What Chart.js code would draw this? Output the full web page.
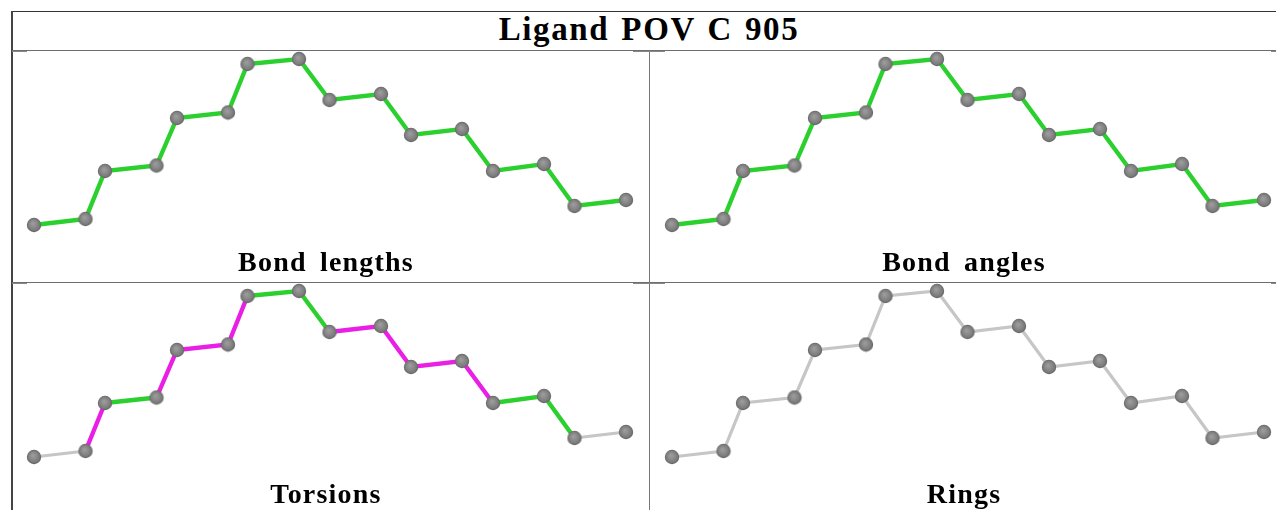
<!DOCTYPE html>
<html>
<head>
<meta charset="utf-8">
<title>Ligand POV C 905</title>
<script src="https://cdn.jsdelivr.net/npm/chart.js@4/dist/chart.umd.min.js"></script>
<style>
  html, body { margin: 0; padding: 0; background: #fff; overflow: hidden; width: 1276px; height: 510px; }
  .rule { position: absolute; background: #6e6e6e; }
  .panel { position: absolute; width: 637px; height: 231px; }
  .panel canvas { filter: blur(0.5px); }
  .label {
    position: absolute; left: -4.5px; width: 637px; top: 195px; text-align: center;
    font: bold 28px "Liberation Serif", serif; letter-spacing: 1.2px; word-spacing: 5px; color: #000;
  }
  #title {
    position: absolute; left: 17px; width: 1264px; top: 11px; text-align: center;
    font: bold 33px "Liberation Serif", serif; letter-spacing: 1.6px; word-spacing: 2.3px; color: #000;
  }
</style>
</head>
<body>
<div id="title"></div>

<script>
// atom positions of the ligand
const atomX = [22, 73.5, 93, 144.5, 165, 216, 235.5, 287, 317.5, 369, 399, 450, 481, 532, 562.5, 614];
const atomY = [57, 63, 111, 116.5, 164, 169.5, 218, 223, 182, 188, 147, 153, 111, 118, 76, 82];

const chartTitle = "Ligand POV C 905";
const panelNames = ["Bond lengths", "Bond angles", "Torsions", "Rings"];

// state of each of the 15 bonds in every panel
const bondLengthStates = ["ok","ok","ok","ok","ok","ok","ok","ok","ok","ok","ok","ok","ok","ok","ok"];
const bondAngleStates  = ["ok","ok","ok","ok","ok","ok","ok","ok","ok","ok","ok","ok","ok","ok","ok"];
const torsionStates    = ["none","bad","ok","bad","bad","bad","ok","ok","bad","bad","bad","bad","ok","ok","none"];
const ringStates       = ["none","none","none","none","none","none","none","none","none","none","none","none","none","none","none"];

const stateColors = { ok: "#2bd02f", bad: "#ea1fe6", none: "#c6c6c6" };
const stateWidths = { ok: 4.4, bad: 4.4, none: 3.2 };

// little shaded ball used as the point image
function makeBall() {
  const c = document.createElement("canvas");
  c.width = c.height = 16;
  const g = c.getContext("2d");
  const grad = g.createRadialGradient(7, 6.5, 1, 8, 8, 7.5);
  grad.addColorStop(0, "#9a9a9a");
  grad.addColorStop(0.7, "#7c7c7c");
  grad.addColorStop(1, "#5f5f5f");
  g.fillStyle = grad;
  g.beginPath();
  g.arc(8, 8, 7.2, 0, Math.PI * 2);
  g.fill();
  return c;
}
const ball = makeBall();

function addRule(left, top, width, height, color) {
  const d = document.createElement("div");
  d.className = "rule";
  d.style.cssText = `left:${left}px;top:${top}px;width:${width}px;height:${height}px;` + (color ? `background:${color}` : "");
  document.body.appendChild(d);
}

function addPanel(left, top, name, states) {
  const wrap = document.createElement("div");
  wrap.className = "panel";
  wrap.style.left = left + "px";
  wrap.style.top = top + "px";
  const cv = document.createElement("canvas");
  cv.width = 637; cv.height = 231;
  wrap.appendChild(cv);
  const lab = document.createElement("div");
  lab.className = "label";
  lab.textContent = name;
  wrap.appendChild(lab);
  document.body.appendChild(wrap);

  new Chart(cv.getContext("2d"), {
    type: "line",
    data: {
      labels: atomX,
      datasets: [{
        data: atomX.map((x, i) => ({ x, y: atomY[i] })),
        borderWidth: 4.4,
        borderColor: stateColors.ok,
        pointStyle: ball,
        tension: 0,
        segment: {
          borderColor: c => stateColors[states[c.p0DataIndex]],
          borderWidth: c => stateWidths[states[c.p0DataIndex]]
        }
      }]
    },
    options: {
      responsive: false,
      animation: false,
      layout: { padding: 0, autoPadding: false },
      plugins: { legend: { display: false }, tooltip: { enabled: false } },
      scales: {
        x: { type: "linear", min: 0, max: 637, display: false },
        y: { type: "linear", min: 0, max: 231, display: false }
      }
    }
  });
}

document.getElementById("title").textContent = chartTitle;

addPanel(12, 51, panelNames[0], bondLengthStates);
addPanel(650, 51, panelNames[1], bondAngleStates);
addPanel(12, 283, panelNames[2], torsionStates);
addPanel(650, 283, panelNames[3], ringStates);

// table rules
addRule(11, 11, 1265, 1, "#333");
addRule(11, 11, 1.5, 499, "#444");
addRule(12, 50, 1264, 1.2);
addRule(12, 282, 1264, 1.2);
addRule(648.5, 50, 1.6, 460, "#777");
// the short stubs where the rules meet
[51, 283].forEach(y => {
  addRule(12, y, 15, 1.2, "#888");
  addRule(633, y, 32, 1.2, "#888");
  addRule(1271, y, 5, 1.2, "#888");
});
</script>
</body>
</html>
